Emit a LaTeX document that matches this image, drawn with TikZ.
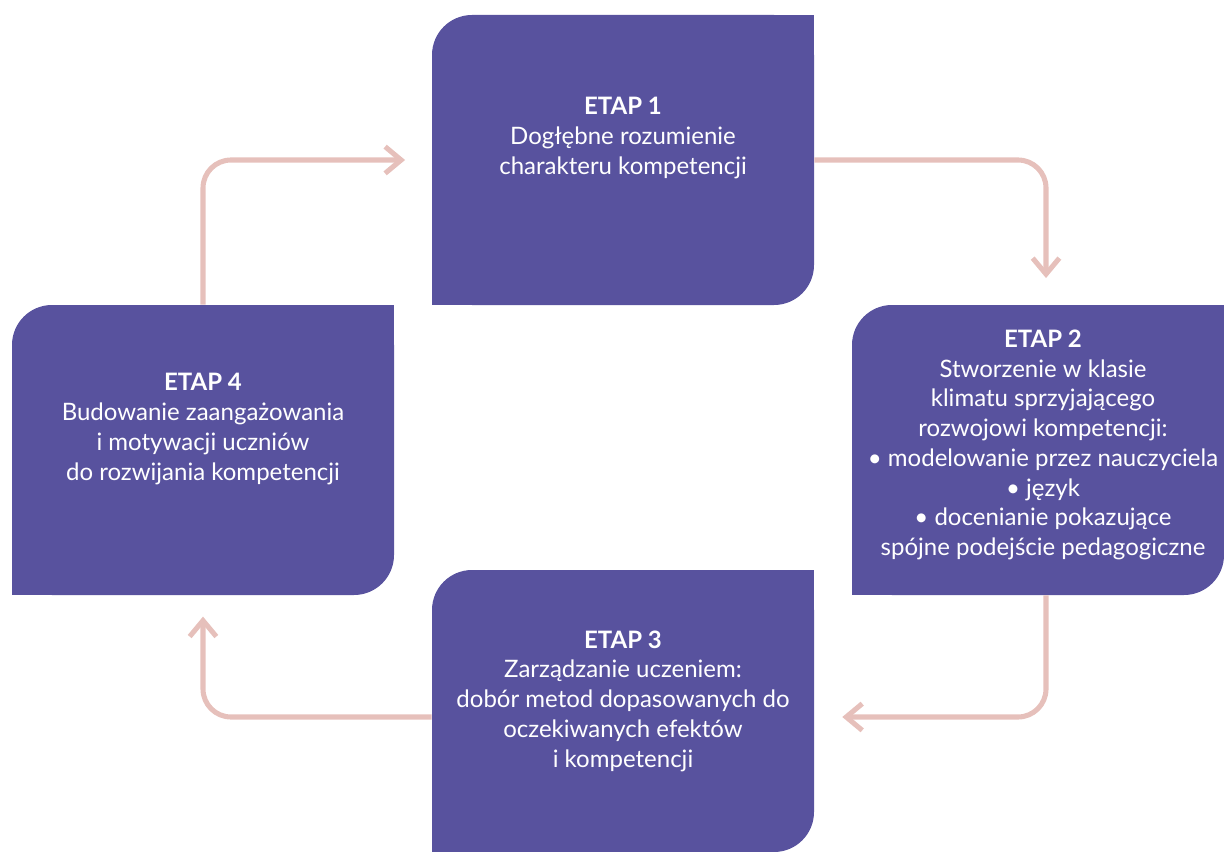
\documentclass[tikz,border=0pt]{standalone}
\usepackage{fontspec}
\setmainfont{Lato}
\usetikzlibrary{arrows.meta, positioning}
\definecolor{etapviolet}{HTML}{58529E}
\definecolor{flowpink}{HTML}{E6C0BB}

\begin{document}
\begin{tikzpicture}[
    x=0.75pt, y=-0.75pt,
    etap/.style={rectangle, fill=etapviolet, rounded corners=30pt, inner sep=0pt, minimum width=286.5pt, minimum height=217.5pt},
    txt/.style={text=white, align=center, font=\fontsize{18}{22.3}\selectfont},
    flow/.style={draw=flowpink, line width=3.8pt, rounded corners=21pt, -{Straight Barb[length=12pt, width=20pt]}}
]
\useasboundingbox (0,0) rectangle (1224,852);

% Stage boxes
\node (stage_1) [etap] at (623,160) {};
\node (stage_2) [etap, minimum width=279pt] at (1038,450) {};
\node (stage_3) [etap, minimum height=211.5pt] at (623,711) {};
\node (stage_4) [etap] at (203,450) {};

% square corners
\fill[etapviolet] (stage_1.north east) rectangle ++(-40,40);
\fill[etapviolet] (stage_1.south west) rectangle ++(40,-40);
\fill[etapviolet] (stage_2.north east) rectangle ++(-40,40);
\fill[etapviolet] (stage_2.south west) rectangle ++(40,-40);
\fill[etapviolet] (stage_3.north east) rectangle ++(-40,40);
\fill[etapviolet] (stage_3.south west) rectangle ++(40,-40);
\fill[etapviolet] (stage_4.north east) rectangle ++(-40,40);
\fill[etapviolet] (stage_4.south west) rectangle ++(40,-40);

% Texts
\node (text_1) [txt] at (623,138) {\textbf{ETAP 1}\\Dogłębne rozumienie\\charakteru kompetencji};
\node (text_2) [txt] at (1043,445) {\textbf{ETAP 2}\\Stworzenie w klasie\\klimatu sprzyjającego\\rozwojowi kompetencji:\\• modelowanie przez nauczyciela\\• język\\• docenianie pokazujące\\spójne podejście pedagogiczne};
\node (text_3) [txt] at (623,701) {\textbf{ETAP 3}\\Zarządzanie uczeniem:\\dobór metod dopasowanych do\\oczekiwanych efektów\\i kompetencji};
\node (text_4) [txt] at (203,429) {\textbf{ETAP 4}\\Budowanie zaangażowania\\i motywacji uczniów\\do rozwijania kompetencji};

% Connections
\draw [flow, shorten >=20pt] (stage_4.north) |- (stage_1.west);
\draw [flow, shorten >=20pt] (stage_1.east) -| ([xshift=6pt]stage_2.north);
\draw [flow, shorten >=21pt] ([xshift=6pt]stage_2.south) |- ([yshift=-4.5pt]stage_3.east);
\draw [flow, shorten >=16pt] ([yshift=-4.5pt]stage_3.west) -| (stage_4.south);

\end{tikzpicture}
\end{document}
